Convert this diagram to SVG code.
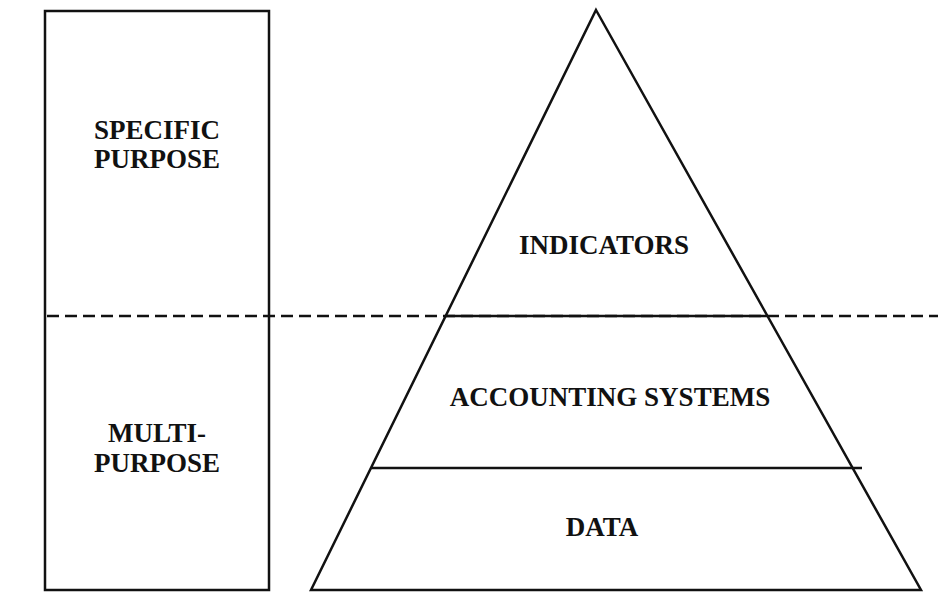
<svg xmlns="http://www.w3.org/2000/svg" width="938" height="604" viewBox="0 0 938 604">
<style>
.ln{fill:none;stroke:#111;stroke-width:2.5;stroke-linejoin:miter}
.dash{fill:none;stroke:#111;stroke-width:2.5;stroke-dasharray:12 6}
.lbl{font-family:"Liberation Serif","Times New Roman",serif;font-weight:bold;font-size:27px;fill:#111;text-anchor:middle}
</style>
<rect width="938" height="604" fill="#fff"/>
<g id="purpose-box">
<rect class="ln" x="45" y="11" width="224" height="579"/>
<text class="lbl" x="157" y="139">SPECIFIC</text>
<text class="lbl" x="157" y="168">PURPOSE</text>
<text class="lbl" x="157" y="442">MULTI-</text>
<text class="lbl" x="157" y="472">PURPOSE</text>
</g>
<g id="connectors">
<line class="dash" x1="47" y1="316" x2="938" y2="316"/>
</g>
<g id="pyramid">
<polygon class="ln" points="596,10 921,590 311,590"/>
<line class="ln" x1="446" y1="316" x2="768" y2="316"/>
<line class="ln" x1="371" y1="468" x2="862" y2="468"/>
</g>
<g id="indicators">
<text class="lbl" x="604" y="254">INDICATORS</text>
</g>
<g id="accounting-systems">
<text class="lbl" x="610" y="406">ACCOUNTING SYSTEMS</text>
</g>
<g id="data">
<text class="lbl" x="602" y="536">DATA</text>
</g>
</svg>
